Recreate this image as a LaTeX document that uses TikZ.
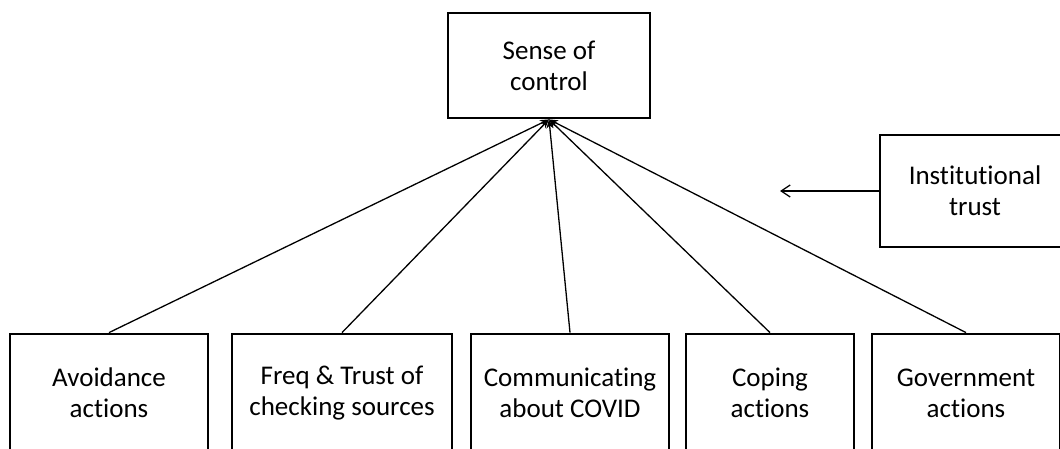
\documentclass[tikz,border=0pt]{standalone}
\usepackage{fontspec}
\setmainfont{Carlito}[Ligatures=NoCommon]
\usepackage{tikz}
\usetikzlibrary{arrows.meta}

\tikzset{
  box/.style={draw, line width=2.8pt, align=center, inner sep=0pt,
    font=\fontsize{27}{31}\selectfont},
  link/.style={line width=1.3pt, -{Stealth[length=9pt,width=7pt]}}
}

\begin{document}
\begin{tikzpicture}[x=1pt,y=1pt]
	\clip (0,0) rectangle (1060,448);
	\fill[white] (0,0) rectangle (1060,448);

	\node[box, minimum width=202, minimum height=105] (sense) at (549,382.5) {Sense of\\control};
	\node[box, minimum width=190, minimum height=112] (inst) at (975,257) {Institutional\\trust};

	\node[box, minimum width=198, minimum height=118] (avoid) at (109,55) {Avoidance\\actions};
	\node[box, minimum width=220, minimum height=118] (freq) at (342,55) {Freq \& Trust of\\checking sources};
	\node[box, minimum width=198, minimum height=118] (comm) at (570,55) {Communicating\\about COVID};
	\node[box, minimum width=168, minimum height=118] (coping) at (770,55) {Coping\\actions};
	\node[box, minimum width=188, minimum height=118] (govt) at (966,55) {Government\\actions};

	\foreach \n in {avoid,freq,comm,coping,govt}
		\draw[link] (\n.north) -- (sense.south);

	\coordinate (instend) at (780,257);
	\draw[line width=1.3pt, -{Straight Barb[length=9pt,width=12pt]}] (inst.west) -- (instend);
\end{tikzpicture}
\end{document}
